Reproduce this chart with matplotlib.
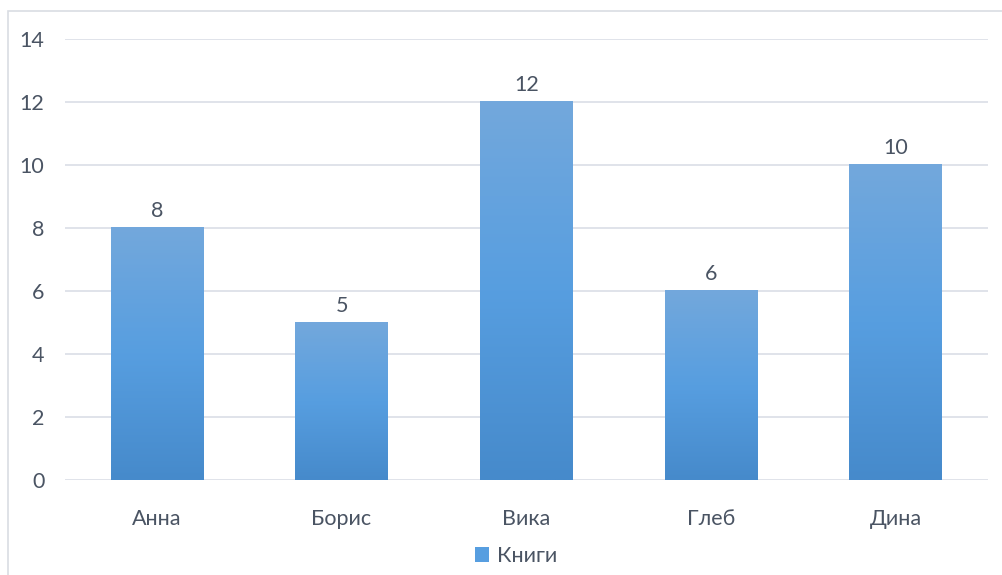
import numpy as np
import matplotlib.pyplot as plt
from matplotlib.patches import Rectangle
from matplotlib.colors import LinearSegmentedColormap

names = ['Анна', 'Борис', 'Вика', 'Глеб', 'Дина']
books = [8, 5, 12, 6, 10]
yticks = [0, 2, 4, 6, 8, 10, 12, 14]

plt.rcParams['font.family'] = ['Lato', 'DejaVu Sans']
text_color = '#4a5463'
grid_color = '#dde1e8'
fs = 15.5

fig = plt.figure(figsize=(10.02, 5.75), dpi=100)
ax = fig.add_axes([0.0644, 0.1652, 0.9216, 0.767])

# chart border, cut off at right and bottom like the screenshot
fig.patches.append(Rectangle((8 / 1002, -0.1), 1.2, 1 - 11 / 575 + 0.1,
                             transform=fig.transFigure, fill=False,
                             edgecolor='#d9dde3', linewidth=1.2))

cmap = LinearSegmentedColormap.from_list(
    'bar', ['#73a8dc', '#579ee0', '#468acb'])
grad = np.linspace(0, 1, 256).reshape(-1, 1)

x = np.arange(len(names))
bars = ax.bar(x, books, width=0.5, color='none', zorder=3)
for b, v in zip(bars, books):
    x0, w, h = b.get_x(), b.get_width(), b.get_height()
    ax.imshow(grad, cmap=cmap, extent=[x0, x0 + w, 0, h], aspect='auto',
              origin='upper', zorder=3)
    ax.annotate(str(v), (x0 + w / 2, h), xytext=(0, 5),
                textcoords='offset points', ha='center', va='bottom',
                fontsize=fs, color=text_color)

ax.set_xlim(-0.5, len(names) - 0.5)
ax.set_ylim(0, 14)
ax.set_yticks(yticks)
ax.set_xticks(x)
ax.set_xticklabels(names)
ax.tick_params(length=0, labelsize=fs, labelcolor=text_color)
ax.tick_params(axis='y', pad=14.5)
ax.tick_params(axis='x', pad=21)
ax.grid(axis='y', color=grid_color, linewidth=1.3, zorder=0)
for s in ax.spines.values():
    s.set_visible(False)

handle = Rectangle((0, 0), 1, 1, facecolor='#579ee0')
fig.legend([handle], ['Книги'], loc='center', bbox_to_anchor=(0.515, 1 - 556 / 575),
           frameon=False, fontsize=fs, labelcolor=text_color,
           handlelength=0.65, handleheight=0.65, handletextpad=0.4)

fig.savefig('out.png', dpi=100)
